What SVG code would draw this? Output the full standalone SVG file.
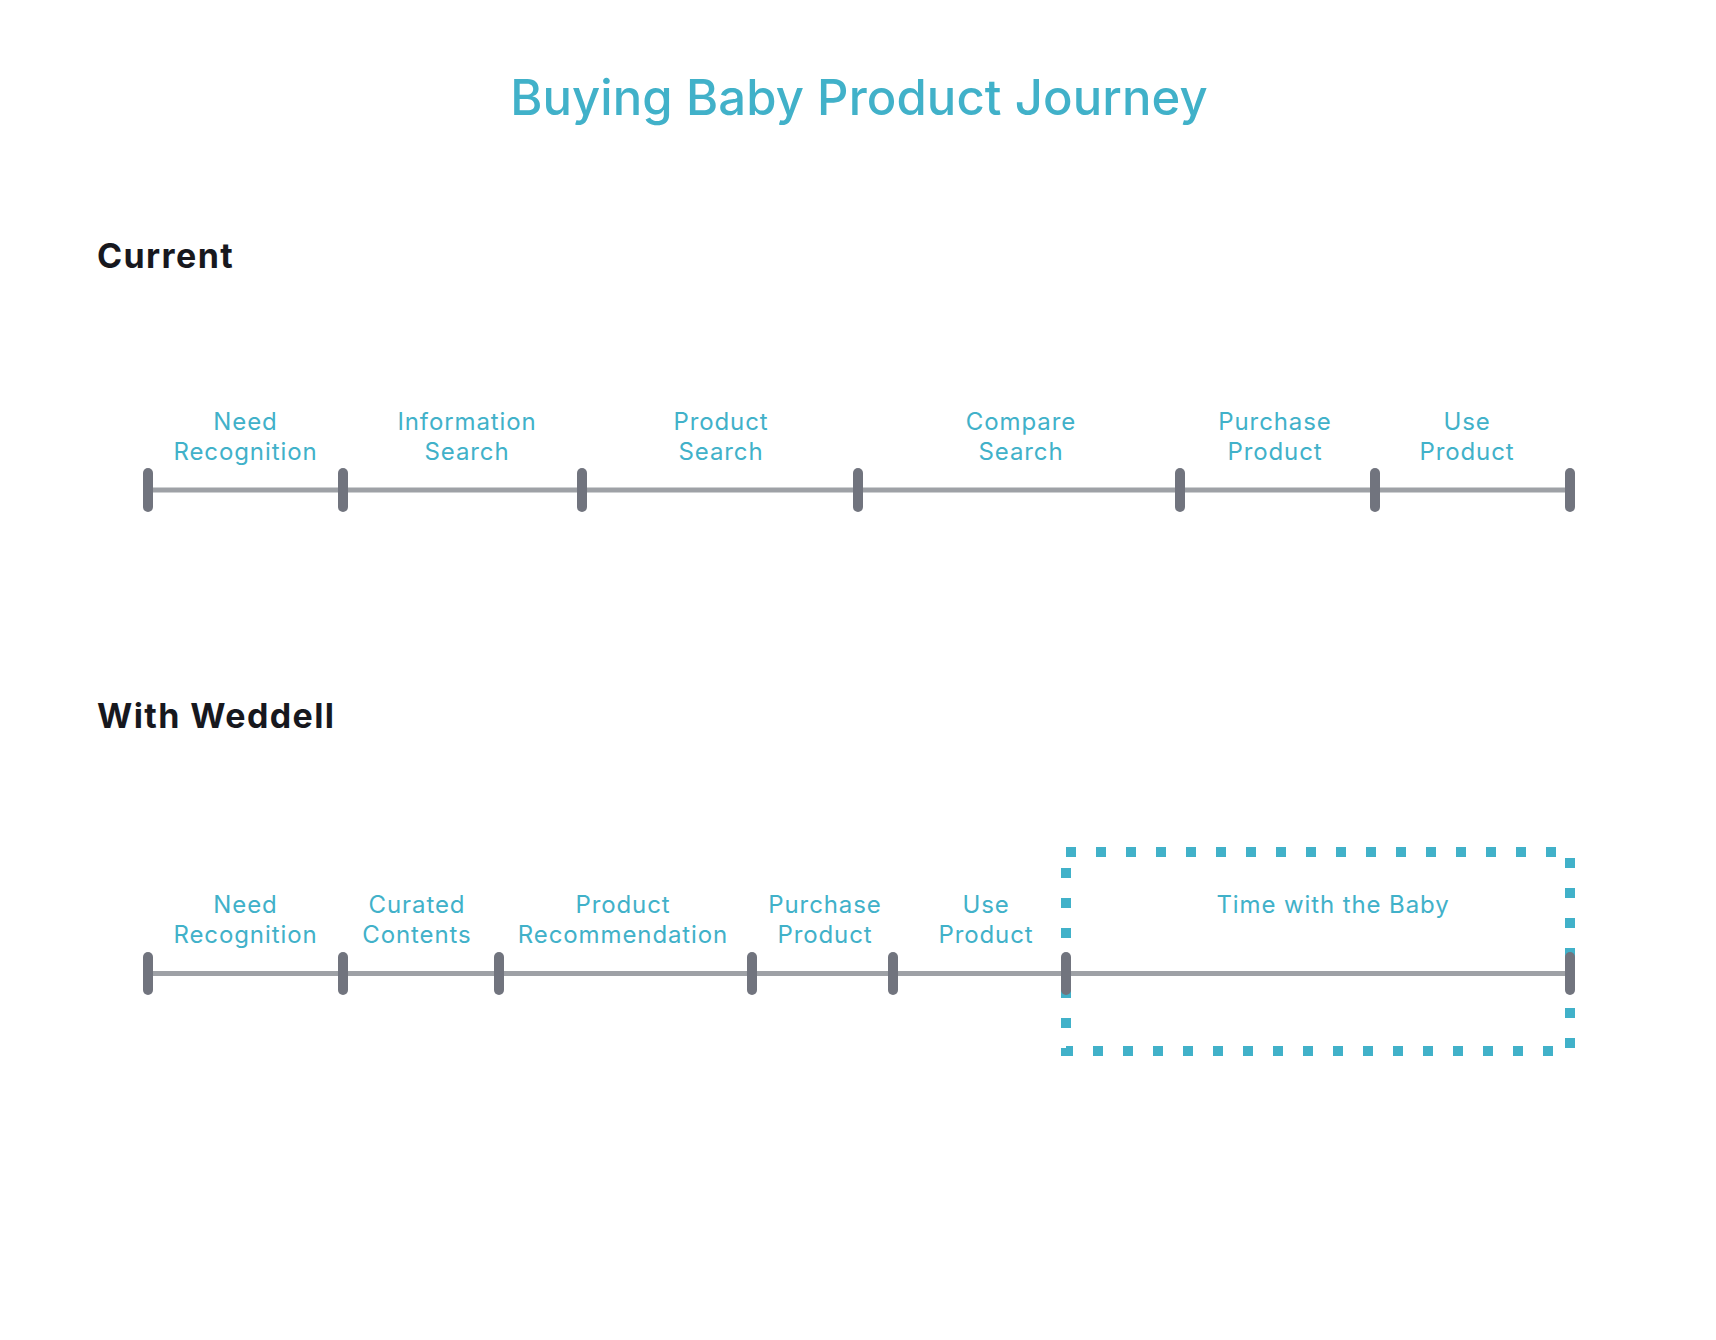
<svg xmlns="http://www.w3.org/2000/svg" width="1716" height="1340" viewBox="0 0 1716 1340">
<style>
.title{font-family:Inter,"Noto Sans",sans-serif;font-size:49px;font-weight:500;fill:#41b1c9;text-anchor:middle;letter-spacing:0.1px}
.head{font-family:Inter,"Noto Sans",sans-serif;font-size:34px;font-weight:700;fill:#17181e;letter-spacing:1.4px}
.lbl{font-family:Inter,"Noto Sans",sans-serif;font-size:24px;font-weight:400;fill:#41b1c9;text-anchor:middle;letter-spacing:0.9px}
.axis{stroke:#9ea1a6;stroke-width:5;fill:none}
.tick{stroke:#71747e;stroke-width:10;stroke-linecap:round}
.dots{fill:none;stroke:#41b1c9;stroke-width:10;stroke-dasharray:10 20}
</style>
<rect width="1716" height="1340" fill="#ffffff"/>
<text class="title" x="859" y="115">Buying Baby Product Journey</text>
<text class="head" x="97" y="268">Current</text>
<text class="head" x="97" y="728">With Weddell</text>

<g id="highlight">
<rect class="dots" x="1066" y="852" width="504" height="199"/>
</g>

<g id="connectors">
<line class="axis" x1="148" y1="490" x2="1570" y2="490"/>
<line class="axis" x1="148" y1="973.5" x2="1570" y2="973.5"/>
</g>

<g id="current-ticks">
<line class="tick" x1="148" y1="473" x2="148" y2="507"/>
<line class="tick" x1="343" y1="473" x2="343" y2="507"/>
<line class="tick" x1="582" y1="473" x2="582" y2="507"/>
<line class="tick" x1="858" y1="473" x2="858" y2="507"/>
<line class="tick" x1="1180" y1="473" x2="1180" y2="507"/>
<line class="tick" x1="1375" y1="473" x2="1375" y2="507"/>
<line class="tick" x1="1570" y1="473" x2="1570" y2="507"/>
</g>

<g id="weddell-ticks">
<line class="tick" x1="148" y1="957" x2="148" y2="990"/>
<line class="tick" x1="343" y1="957" x2="343" y2="990"/>
<line class="tick" x1="499" y1="957" x2="499" y2="990"/>
<line class="tick" x1="752" y1="957" x2="752" y2="990"/>
<line class="tick" x1="893" y1="957" x2="893" y2="990"/>
<line class="tick" x1="1066" y1="957" x2="1066" y2="990"/>
<line class="tick" x1="1570" y1="957" x2="1570" y2="990"/>
</g>

<g id="c-need"><text class="lbl" x="245.5" y="430">Need</text><text class="lbl" x="245.5" y="460">Recognition</text></g>
<g id="c-info"><text class="lbl" x="467" y="430">Information</text><text class="lbl" x="467" y="460">Search</text></g>
<g id="c-product"><text class="lbl" x="721" y="430">Product</text><text class="lbl" x="721" y="460">Search</text></g>
<g id="c-compare"><text class="lbl" x="1021" y="430">Compare</text><text class="lbl" x="1021" y="460">Search</text></g>
<g id="c-purchase"><text class="lbl" x="1275" y="430">Purchase</text><text class="lbl" x="1275" y="460">Product</text></g>
<g id="c-use"><text class="lbl" x="1467" y="430">Use</text><text class="lbl" x="1467" y="460">Product</text></g>

<g id="w-need"><text class="lbl" x="245.5" y="913">Need</text><text class="lbl" x="245.5" y="943">Recognition</text></g>
<g id="w-curated"><text class="lbl" x="417" y="913">Curated</text><text class="lbl" x="417" y="943">Contents</text></g>
<g id="w-reco"><text class="lbl" x="623" y="913">Product</text><text class="lbl" x="623" y="943">Recommendation</text></g>
<g id="w-purchase"><text class="lbl" x="825" y="913">Purchase</text><text class="lbl" x="825" y="943">Product</text></g>
<g id="w-use"><text class="lbl" x="986" y="913">Use</text><text class="lbl" x="986" y="943">Product</text></g>
<g id="w-time"><text class="lbl" x="1333" y="913">Time with the Baby</text></g>
</svg>
